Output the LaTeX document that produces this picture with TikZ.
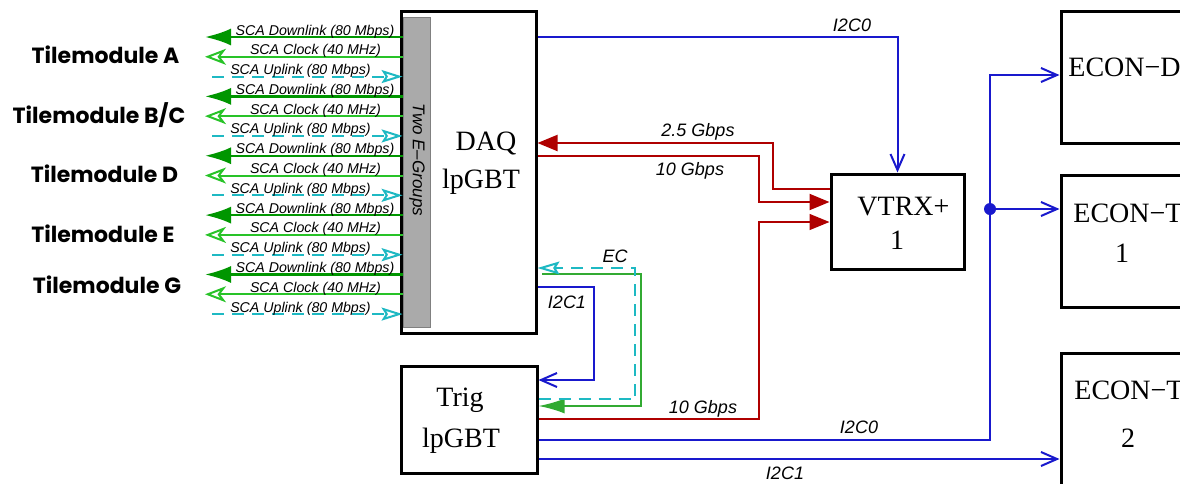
\documentclass[tikz,border=0pt]{standalone}
\usepackage{fontspec}
\setmainfont{Liberation Serif}
\newfontfamily\lsans{Liberation Sans}
\newfontfamily\popp{Poppins}
\usetikzlibrary{arrows.meta,calc}
\definecolor{dgreen}{RGB}{0,150,0}
\definecolor{lgreen}{RGB}{40,195,40}
\definecolor{ecgreen}{RGB}{50,170,50}
\definecolor{mycyan}{RGB}{30,185,195}
\definecolor{myblue}{RGB}{25,25,205}
\definecolor{myred}{RGB}{175,0,0}
\definecolor{bargray}{RGB}{170,170,170}
\begin{document}
\begin{tikzpicture}[x=0.5pt,y=-0.5pt,
  blk/.style={draw=black,line width=1.5pt,inner sep=0pt},
  lab/.style={font=\lsans\itshape\fontsize{9}{10}\selectfont,anchor=base,inner sep=0pt},
  sca/.style={font=\lsans\itshape\fontsize{7.1}{8}\selectfont,anchor=base,inner sep=0pt},
  tile/.style={font=\popp\bfseries\fontsize{11}{12}\selectfont,anchor=base,inner sep=0pt},
  serif/.style={font=\fontsize{14}{16}\selectfont,anchor=base,inner sep=0pt},
  bl/.style={draw=myblue,line width=1pt},
  rd/.style={draw=myred,line width=1pt},
  rdthin/.style={draw=myred,line width=0.7pt},
  barb/.style={-{Straight Barb[length=8pt,width=7pt]}},
  tri/.style={-{Triangle[length=10pt,width=8pt]}},
  dlink/.style={draw=dgreen,line width=1.2pt,-{Latex[length=13pt,width=8.5pt]}},
  clink/.style={draw=lgreen,line width=1pt,-{Stealth[open,length=10.5pt,width=8pt,inset=3pt]}},
  ulink/.style={draw=mycyan,line width=1pt,dash pattern=on 6pt off 4pt,-{Stealth[open,length=10.5pt,width=6.5pt,inset=2pt,sep=0pt]}},
  cydash/.style={draw=mycyan,line width=1pt,dash pattern=on 6pt off 4pt},
]
\useasboundingbox (0,0) rectangle (1180,483);
\clip (0,0) rectangle (1180,483);
\fill[white] (0,0) rectangle (1180,483);

% gray bar and boxes
\node[fill=bargray, draw=gray, line width=0.4pt, minimum width=13.5pt, minimum height=155pt, inner sep=0pt] (bar) at (416.5,172) {};
\node[blk, minimum width=67.5pt, minimum height=161pt] (daq) at (468.5,172) {};
\node[blk, minimum width=68pt, minimum height=53.5pt] (trig) at (469,419.5) {};
\node[blk, minimum width=66.5pt, minimum height=47.5pt] (vtrx) at (897.5,221.5) {};
\node[blk, minimum width=64.5pt, minimum height=66pt] (econd) at (1125.5,77) {};
\node[blk, minimum width=64.5pt, minimum height=66pt] (econta) at (1125.5,241) {};
\node[blk, minimum width=64.5pt, minimum height=68.5pt] (econtb) at (1125.5,421.5) {};

\node[font=\lsans\itshape\fontsize{8.5}{9}\selectfont, rotate=-90, inner sep=0pt] (tg) at (417,160) {Two E–Groups};

% SCA links
\foreach \g in {0,...,4} {
  \pgfmathsetmacro\yd{37+19.79*(3*\g)}
  \pgfmathsetmacro\yc{37+19.79*(3*\g+1)}
  \pgfmathsetmacro\yu{37+19.79*(3*\g+2)}
  \coordinate (dl\g) at (205,\yd);
  \coordinate (cl\g) at (205,\yc);
  \coordinate (ul\g) at (212,\yu);
  \draw[dlink] (bar.west |- dl\g) -- (dl\g);
  \draw[clink] (bar.west |- cl\g) -- (cl\g);
  \draw[ulink] (ul\g) -- (bar.west |- ul\g);
  \node[sca] (sd\g) at (315,\yd-2) {SCA Downlink (80 Mbps)};
  \node[sca] (sc\g) at (315.5,\yc-2) {SCA Clock (40 MHz)};
  \node[sca] (su\g) at (300.5,\yu-2) {SCA Uplink (80 Mbps)};
}

% tilemodule labels
\node[tile] (ta) at (105.5,63) {Tilemodule A};
\node[tile] (tb) at (99,123) {Tilemodule B/C};
\node[tile] (td) at (104.5,182) {Tilemodule D};
\node[tile] (te) at (103,242) {Tilemodule E};
\node[tile] (tgm) at (107,293) {Tilemodule G};

% box texts
\node[serif] (t1) at (486,150) {DAQ};
\node[serif] (t2) at (481,188) {lpGBT};
\node[serif] (t3) at (460,406) {Trig};
\node[serif] (t4) at (461,447) {lpGBT};
\node[serif] (t5) at (903.5,215) {VTRX+};
\node[serif] (t6) at (897,249) {1};
\node[serif,anchor=base west] (t7) at (1068,76) {ECON−D};
\node[serif,anchor=base west] (t8) at (1073,222) {ECON−T};
\node[serif] (t9) at (1122,262) {1};
\node[serif,anchor=base west] (t10) at (1074,399) {ECON−T};
\node[serif] (t11) at (1128,447) {2};

% connectors
\draw[bl,barb] (daq.east |- 0,37) -| (vtrx.north);
\draw[rd,tri] (vtrx.west |- 0,189) -- (773,189) |- (daq.east |- 0,143);
\draw[rd,tri] (daq.east |- 0,156) -- (759,156) |- (vtrx.west |- 0,202);
\draw[rdthin,tri] (trig.east |- 0,419) -- (759,419) |- (vtrx.west |- 0,222);
\draw[bl,barb] (daq.east |- 0,287) -- (594,287) |- (trig.east |- 0,380);
\coordinate (ecs) at (542,274);
\draw[draw=ecgreen,line width=1pt,-{Latex[length=13pt,width=7.5pt]}] (ecs) -- (641,274) |- (trig.east |- 0,406);
\draw[cydash,-{Stealth[open,length=11pt,width=6.5pt,inset=2pt]}] (trig.east |- 0,399) -- (635,399) |- (daq.east |- 0,268);
\coordinate (junc) at (990,209);
\draw[bl,barb] (trig.east |- 0,440) -| (junc) |- (econd.west |- 0,75);
\draw[bl,barb] (junc) -- (econta.west |- junc);
\fill[myblue] (junc) circle (3pt);
\draw[bl,barb] (trig.east |- 0,459) -- (econtb.west |- 0,459);

% connector labels
\node[lab] (l1) at (852,31) {I2C0};
\node[lab] (l2) at (698,136) {2.5 Gbps};
\node[lab] (l3) at (690,175) {10 Gbps};
\node[lab] (l4) at (615,262) {EC};
\node[lab] (l5) at (567,308) {I2C1};
\node[lab] (l6) at (703,413) {10 Gbps};
\node[lab] (l7) at (859,433) {I2C0};
\node[lab] (l8) at (785,479) {I2C1};
\end{tikzpicture}
\end{document}
